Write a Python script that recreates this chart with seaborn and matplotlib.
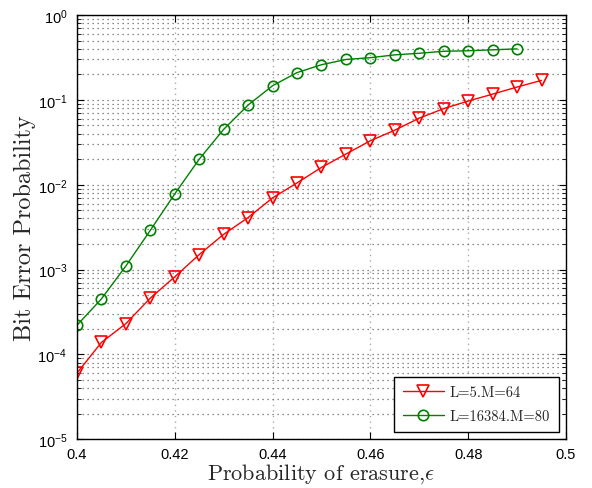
import numpy as np
import pandas as pd
import matplotlib
matplotlib.use('Agg')
import matplotlib.pyplot as plt
import seaborn as sns
from matplotlib.ticker import LogLocator, NullFormatter, FixedLocator

# data
eps_red = [0.400, 0.405, 0.410, 0.415, 0.420, 0.425, 0.430, 0.435, 0.440, 0.445,
           0.450, 0.455, 0.460, 0.465, 0.470, 0.475, 0.480, 0.485, 0.490, 0.495]
ber_red = [6.0e-5, 1.38e-4, 2.3e-4, 4.6e-4, 8.2e-4, 1.5e-3, 2.6e-3, 4.1e-3, 7.0e-3, 1.05e-2,
           1.6e-2, 2.3e-2, 3.3e-2, 4.4e-2, 6.1e-2, 7.9e-2, 9.7e-2, 0.117, 0.142, 0.17]
eps_green = [0.400, 0.405, 0.410, 0.415, 0.420, 0.425, 0.430, 0.435, 0.440, 0.445,
             0.450, 0.455, 0.460, 0.465, 0.470, 0.475, 0.480, 0.485, 0.490]
ber_green = [2.2e-4, 4.5e-4, 1.1e-3, 2.9e-3, 7.8e-3, 2.0e-2, 4.5e-2, 8.7e-2, 0.147, 0.21,
             0.26, 0.30, 0.315, 0.34, 0.355, 0.375, 0.38, 0.39, 0.40]
label_red = 'L=5.M=64'
label_green = 'L=16384.M=80'
xticks = [0.40, 0.42, 0.44, 0.46, 0.48, 0.50]
xticklabels = ['0.4', '0.42', '0.44', '0.46', '0.48', '0.5']
yticks = [1e-5, 1e-4, 1e-3, 1e-2, 1e-1, 1e0]
yticklabels = [r'$\mathregular{10^{-5}}$', r'$\mathregular{10^{-4}}$', r'$\mathregular{10^{-3}}$',
               r'$\mathregular{10^{-2}}$', r'$\mathregular{10^{-1}}$', r'$\mathregular{10^{0}}$']

df_red = pd.DataFrame({'eps': eps_red, 'ber': ber_red})
df_green = pd.DataFrame({'eps': eps_green, 'ber': ber_green})

sns.set_style('ticks')
plt.rcParams['font.family'] = ['Liberation Sans', 'DejaVu Sans']
plt.rcParams['mathtext.fontset'] = 'cm'
plt.rcParams['xtick.direction'] = 'in'
plt.rcParams['ytick.direction'] = 'in'

fig = plt.figure(figsize=(5.92, 4.89), dpi=100)
ax = fig.add_axes([0.130, 0.100, 0.826, 0.867])

sns.lineplot(data=df_red, x='eps', y='ber', ax=ax, color='red', marker='v',
             markersize=8.5, markerfacecolor='none', markeredgecolor='red',
             markeredgewidth=1.2, linewidth=1.0, label=label_red)
sns.lineplot(data=df_green, x='eps', y='ber', ax=ax, color='green', marker='o',
             markersize=7.5, markerfacecolor='none', markeredgecolor='green',
             markeredgewidth=1.2, linewidth=1.0, label=label_green)

ax.set_yscale('log')
ax.set_xlim(0.4, 0.5)
ax.set_ylim(1e-5, 1)
ax.xaxis.set_major_locator(FixedLocator(xticks))
ax.set_xticklabels(xticklabels)
ax.yaxis.set_major_locator(FixedLocator(yticks))
ax.set_yticklabels(yticklabels)
ax.yaxis.set_minor_locator(LogLocator(base=10, subs=np.arange(2, 10), numticks=20))
ax.yaxis.set_minor_formatter(NullFormatter())
ax.tick_params(axis='both', which='both', top=True, right=True, labelsize=10.5, colors='black')
ax.tick_params(which='major', length=5, width=0.8)
ax.tick_params(which='minor', length=3, width=0.6)
ax.tick_params(axis='x', which='major', pad=6)
ax.tick_params(axis='y', which='major', pad=7)

ax.grid(True, which='major', axis='x', linestyle=(0, (1, 3)), color='#aaaaaa', linewidth=1.0)
ax.grid(True, which='both', axis='y', linestyle=(0, (1, 3)), color='#666666', linewidth=0.9)

for s in ax.spines.values():
    s.set_linewidth(1.0)
    s.set_color('black')

ax.set_xlabel(r'Probability of erasure,$\epsilon$', fontfamily='cmr10', fontsize=16, labelpad=0)
ax.set_ylabel('Bit Error Probability', fontfamily='cmr10', fontsize=17.5, labelpad=1)

leg = ax.legend(loc='lower right', prop={'family': 'cmr10', 'size': 10.5}, fancybox=False,
                framealpha=1, edgecolor='black', borderaxespad=0.5, handlelength=2.8,
                handletextpad=0.4, labelspacing=0.7, borderpad=0.6)
leg.get_frame().set_linewidth(1.0)

fig.savefig('out.png', dpi=100)
